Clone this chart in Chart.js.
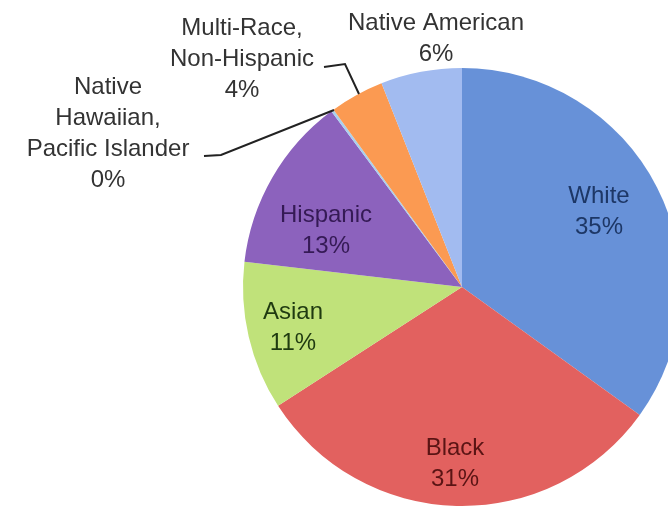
<!DOCTYPE html>
<html>
<head>
<meta charset="utf-8">
<script src="https://cdn.jsdelivr.net/npm/chart.js@4"></script>
<style>
  html, body { margin: 0; padding: 0; background: #fff; overflow: hidden; }
  #wrap { width: 700px; height: 510px; position: relative; }
</style>
</head>
<body>
<div id="wrap"><canvas id="pie" width="700" height="510"></canvas></div>
<script>
// data
const categories = ['White', 'Black', 'Asian', 'Hispanic',
  'Native Hawaiian, Pacific Islander', 'Multi-Race, Non-Hispanic', 'Native American'];
const shares = [35, 31, 11, 13, 0.2, 4, 6];
const sliceColors = ['#6791d8', '#e2615f', '#c0e27a', '#8c62bd', '#a9d0ee', '#fb9a52', '#a2bbf0'];
const textColors = ['#1d3766', '#5a1414', '#1f3a10', '#351a55', '#333', '#333', '#333'];
// label lines per slice (last line is the percent)
const labelLines = [['White'], ['Black'], ['Asian'], ['Hispanic'],
  ['Native', 'Hawaiian,', 'Pacific Islander'], ['Multi-Race,', 'Non-Hispanic'], ['Native American']];

const font = '24px "Liberation Sans", Arial, sans-serif';

// top line of each label block
const labelPlace = [
  { x: 599, y: 196 }, { x: 455, y: 448 }, { x: 293, y: 312 }, { x: 326, y: 215 },
  { x: 108, y: 87 }, { x: 242, y: 28 }, { x: 436, y: 23 }
];
const leaders = {
  4: [[204, 156], [221, 155], [334, 110]],
  5: [[324, 67], [345, 64], [359, 94]]
};

const labelPlugin = {
  id: 'sliceLabels',
  afterDatasetsDraw(chart) {
    const ctx = chart.ctx;
    const total = shares.reduce((a, b) => a + b, 0);
    ctx.save();
    ctx.font = font;
    ctx.textAlign = 'center';
    ctx.textBaseline = 'middle';
    categories.forEach((c, i) => {
      const lines = labelLines[i].concat([Math.round(shares[i] / total * 100) + '%']);
      const p = labelPlace[i];
      ctx.fillStyle = textColors[i];
      lines.forEach((t, k) => ctx.fillText(t, p.x, p.y + k * 31));
    });
    ctx.strokeStyle = '#222';
    ctx.lineWidth = 2;
    Object.values(leaders).forEach(pts => {
      ctx.beginPath();
      pts.forEach((pt, k) => k ? ctx.lineTo(pt[0], pt[1]) : ctx.moveTo(pt[0], pt[1]));
      ctx.stroke();
    });
    ctx.restore();
  }
};

new Chart(document.getElementById('pie'), {
  type: 'pie',
  data: {
    labels: categories,
    datasets: [{
      data: shares,
      backgroundColor: sliceColors,
      borderWidth: 0
    }]
  },
  options: {
    responsive: false,
    animation: false,
    layout: { padding: { left: 243, right: 19, top: 68, bottom: 4 } },
    plugins: { legend: { display: false }, tooltip: { enabled: false } }
  },
  plugins: [labelPlugin]
});
</script>
</body>
</html>
